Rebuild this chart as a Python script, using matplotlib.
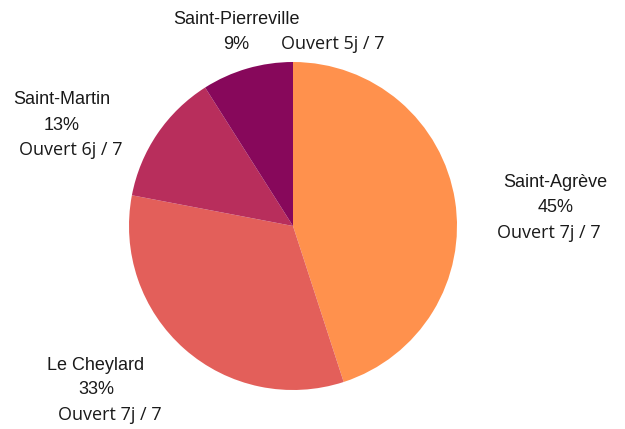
import matplotlib
matplotlib.use("Agg")
import matplotlib.pyplot as plt

sites = ["Saint-Agrève", "Le Cheylard", "Saint-Martin", "Saint-Pierreville"]
shares = [45, 33, 13, 9]
opening = ["Ouvert 7j / 7", "Ouvert 7j / 7", "Ouvert 6j / 7", "Ouvert 5j / 7"]
colors = ["#FF914D", "#E35F5A", "#B82E5C", "#87085B"]

W, H = 625, 429
CX, CY, R = 293, 226, 164  # pixel centre and radius of the pie

fig = plt.figure(figsize=(W / 100, H / 100), dpi=100)
ax = fig.add_axes([0, 0, 1, 1])
ax.pie(shares, colors=colors, startangle=90, counterclock=False, radius=1,
       wedgeprops=dict(linewidth=0))
ax.set_xlim((0 - CX) / R, (W - CX) / R)
ax.set_ylim((CY - H) / R, CY / R)
ax.set_aspect("equal")
ax.axis("off")

def px(x, y):
    return (x - CX) / R, (CY - y) / R

# pixel layout of the label pieces: (name xy, pct xy, opening xy)
layout = [
    ((555, 183), (556, 208), (549, 233)),
    ((96, 365), (96, 390), (110, 415)),
    ((62, 100), (62, 126), (71, 150)),
    ((236, 20), (236, 45), (333, 44)),
]
font = dict(family=["Liberation Sans", "DejaVu Sans"], fontsize=13,
            color="#1a1a1a", ha="center", va="center")
font_op = dict(family=["Open Sans", "DejaVu Sans"], fontsize=13,
               color="#1a1a1a", ha="center", va="center")
for name, pct, op, (p1, p2, p3) in zip(sites, shares, opening, layout):
    ax.text(*px(*p1), name, **font)
    ax.text(*px(*p2), f"{pct}%", **font)
    ax.text(*px(*p3), op, **font_op)

fig.savefig("out.png", dpi=100)
